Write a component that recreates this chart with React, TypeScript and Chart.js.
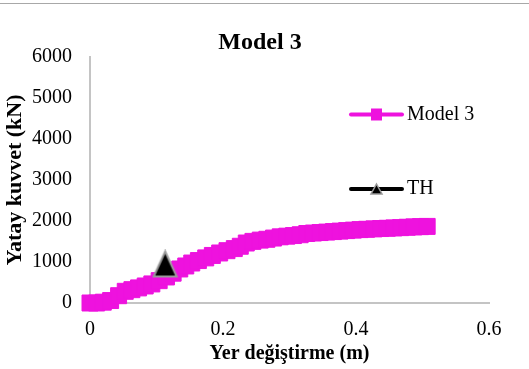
import { useEffect, useRef } from "react";
import { Chart, registerables } from "chart.js";

Chart.register(...registerables);

// ---- data ----
const chartTitle = "Model 3";
const xAxisTitle = "Yer değiştirme (m)";
const yAxisTitle = "Yatay kuvvet (kN)";
const seriesNames = ["Model 3", "TH"];

const model3X = [
  0, 0.01, 0.02, 0.031, 0.043, 0.053, 0.063, 0.073, 0.083, 0.093, 0.104, 0.115, 0.125,
  0.135, 0.144, 0.153, 0.163, 0.174, 0.184, 0.195, 0.206, 0.217, 0.226, 0.235, 0.245,
  0.256, 0.266, 0.276, 0.286, 0.296, 0.306, 0.316, 0.326, 0.336, 0.346, 0.356, 0.366,
  0.376, 0.386, 0.396, 0.406, 0.416, 0.427, 0.437, 0.447, 0.457, 0.467, 0.477, 0.487,
  0.497, 0.507,
];
const model3Y = [
  0, 0, 20, 60, 178, 285, 325, 368, 415, 465, 545, 635, 727,
  830, 903, 975, 1035, 1100, 1160, 1220, 1276, 1327, 1384, 1463, 1503,
  1534, 1554, 1584, 1614, 1630, 1645, 1665, 1695, 1707, 1718, 1730, 1742,
  1754, 1766, 1778, 1790, 1798, 1808, 1816, 1823, 1831, 1838, 1848, 1856,
  1862, 1868,
];
const thX = [0.113];
const thY = [952];

const xTicks = [0, 0.2, 0.4, 0.6];
const yTicks = [0, 1000, 2000, 3000, 4000, 5000, 6000];

// ---- styles ----
const MAGENTA = "#EE12DE";
const SERIF = "'Liberation Serif', 'Times New Roman', serif";
const AXIS_GRAY = "#c4c4c4";

function makeTriangle(w: number, h: number, fill: string, stroke: string, lw: number) {
  const c = document.createElement("canvas");
  c.width = w;
  c.height = h;
  const ctx = c.getContext("2d")!;
  ctx.beginPath();
  ctx.moveTo(w / 2, lw);
  ctx.lineTo(w - lw, h - lw);
  ctx.lineTo(lw, h - lw);
  ctx.closePath();
  ctx.fillStyle = fill;
  ctx.fill();
  ctx.lineWidth = lw;
  ctx.strokeStyle = stroke;
  ctx.stroke();
  return c;
}

const overlayPlugin = {
  id: "overlay",
  beforeDraw(chart: any) {
    const ctx = chart.ctx;
    ctx.save();
    ctx.fillStyle = "#a8a8a8";
    ctx.fillRect(0, 3, chart.width, 1);
    ctx.restore();
  },
  afterDraw(chart: any) {
    const ctx = chart.ctx;
    const a = chart.chartArea;
    ctx.save();
    // title
    ctx.fillStyle = "#000";
    ctx.font = `bold 24px ${SERIF}`;
    ctx.textAlign = "center";
    ctx.textBaseline = "alphabetic";
    ctx.fillText(chartTitle, 260, 49);

    // legend
    const lx0 = a.left + 261;
    const lx1 = a.left + 312;
    const mx = a.left + 286.5;
    const tx = a.left + 317;
    const y1 = a.top + 57.5;
    const y2 = a.top + 132;
    ctx.lineCap = "round";
    ctx.lineWidth = 4;
    ctx.strokeStyle = MAGENTA;
    ctx.beginPath();
    ctx.moveTo(lx0, y1);
    ctx.lineTo(lx1, y1);
    ctx.stroke();
    ctx.fillStyle = MAGENTA;
    ctx.fillRect(mx - 5.5, y1 - 6, 11, 12);

    ctx.strokeStyle = "#000";
    ctx.beginPath();
    ctx.moveTo(lx0, y2);
    ctx.lineTo(lx1, y2);
    ctx.stroke();
    ctx.beginPath();
    ctx.moveTo(mx, y2 - 5);
    ctx.lineTo(mx + 5.5, y2 + 5);
    ctx.lineTo(mx - 5.5, y2 + 5);
    ctx.closePath();
    ctx.fillStyle = "#000";
    ctx.fill();
    ctx.lineWidth = 1.5;
    ctx.lineCap = "butt";
    ctx.strokeStyle = "#999";
    ctx.stroke();

    ctx.fillStyle = "#000";
    ctx.font = `20px ${SERIF}`;
    ctx.textAlign = "left";
    ctx.textBaseline = "middle";
    ctx.fillText(seriesNames[0], tx, y1 + 0.5);
    ctx.fillText(seriesNames[1], tx, y2 - 0.5);
    ctx.restore();
  },
};

export default function App() {
  const ref = useRef<HTMLCanvasElement | null>(null);

  useEffect(() => {
    document.body.style.margin = "0";
    const canvas = ref.current;
    if (!canvas) return;
    const tri = makeTriangle(27, 29, "#000", "#9a9a9a", 2);
    const chart = new Chart(canvas, {
      type: "line",
      data: {
        datasets: [
          {
            label: seriesNames[1],
            data: thX.map((x, i) => ({ x, y: thY[i] })),
            borderColor: "#000",
            backgroundColor: "#000",
            showLine: false,
            pointStyle: tri as any,
            pointRadius: 14,
            order: 0,
            clip: false as any,
          },
          {
            label: seriesNames[0],
            data: model3X.map((x, i) => ({ x, y: model3Y[i] })),
            borderColor: MAGENTA,
            backgroundColor: MAGENTA,
            borderWidth: 3,
            pointStyle: "rect",
            pointRadius: 11.3,
            pointBorderWidth: 1,
            pointBackgroundColor: MAGENTA,
            pointBorderColor: MAGENTA,
            tension: 0,
            order: 1,
            clip: false as any,
          },
        ],
      },
      options: {
        responsive: false,
        animation: false,
        events: [],
        layout: { padding: { top: 57, right: 40, left: 0, bottom: 0 } },
        plugins: {
          legend: { display: false },
          title: { display: false },
          tooltip: { enabled: false },
        },
        scales: {
          x: {
            type: "linear",
            min: 0,
            max: 0.6,
            afterFit: (s: any) => {
              s.height = 66;
            },
            afterBuildTicks: (s: any) => {
              s.ticks = xTicks.map((v) => ({ value: v }));
            },
            grid: { display: false, drawTicks: false },
            border: { display: true, color: AXIS_GRAY, width: 2 },
            ticks: {
              padding: 15,
              color: "#000",
              font: { family: SERIF, size: 20 },
              callback: (v: any) => String(v),
            },
            title: {
              display: true,
              text: xAxisTitle,
              color: "#000",
              font: { family: SERIF, size: 20, weight: "bold" },
              padding: { top: 0, bottom: 3 },
            },
          },
          y: {
            type: "linear",
            min: 0,
            max: 6000,
            afterFit: (s: any) => {
              s.width = 90;
            },
            afterBuildTicks: (s: any) => {
              s.ticks = yTicks.map((v) => ({ value: v }));
            },
            grid: { display: false, drawTicks: false },
            border: { display: true, color: AXIS_GRAY, width: 2 },
            ticks: {
              padding: 18,
              color: "#000",
              font: { family: SERIF, size: 20 },
              callback: (v: any) => String(v),
            },
            title: {
              display: true,
              text: yAxisTitle,
              color: "#000",
              font: { family: SERIF, size: 22, weight: "bold" },
              padding: { top: 2, bottom: 0 },
            },
          },
        },
      },
      plugins: [overlayPlugin],
    });
    return () => chart.destroy();
  }, []);

  return (
    <div style={{ width: 529, height: 369 }}>
      <canvas ref={ref} width={529} height={369} style={{ display: "block" }} />
    </div>
  );
}
